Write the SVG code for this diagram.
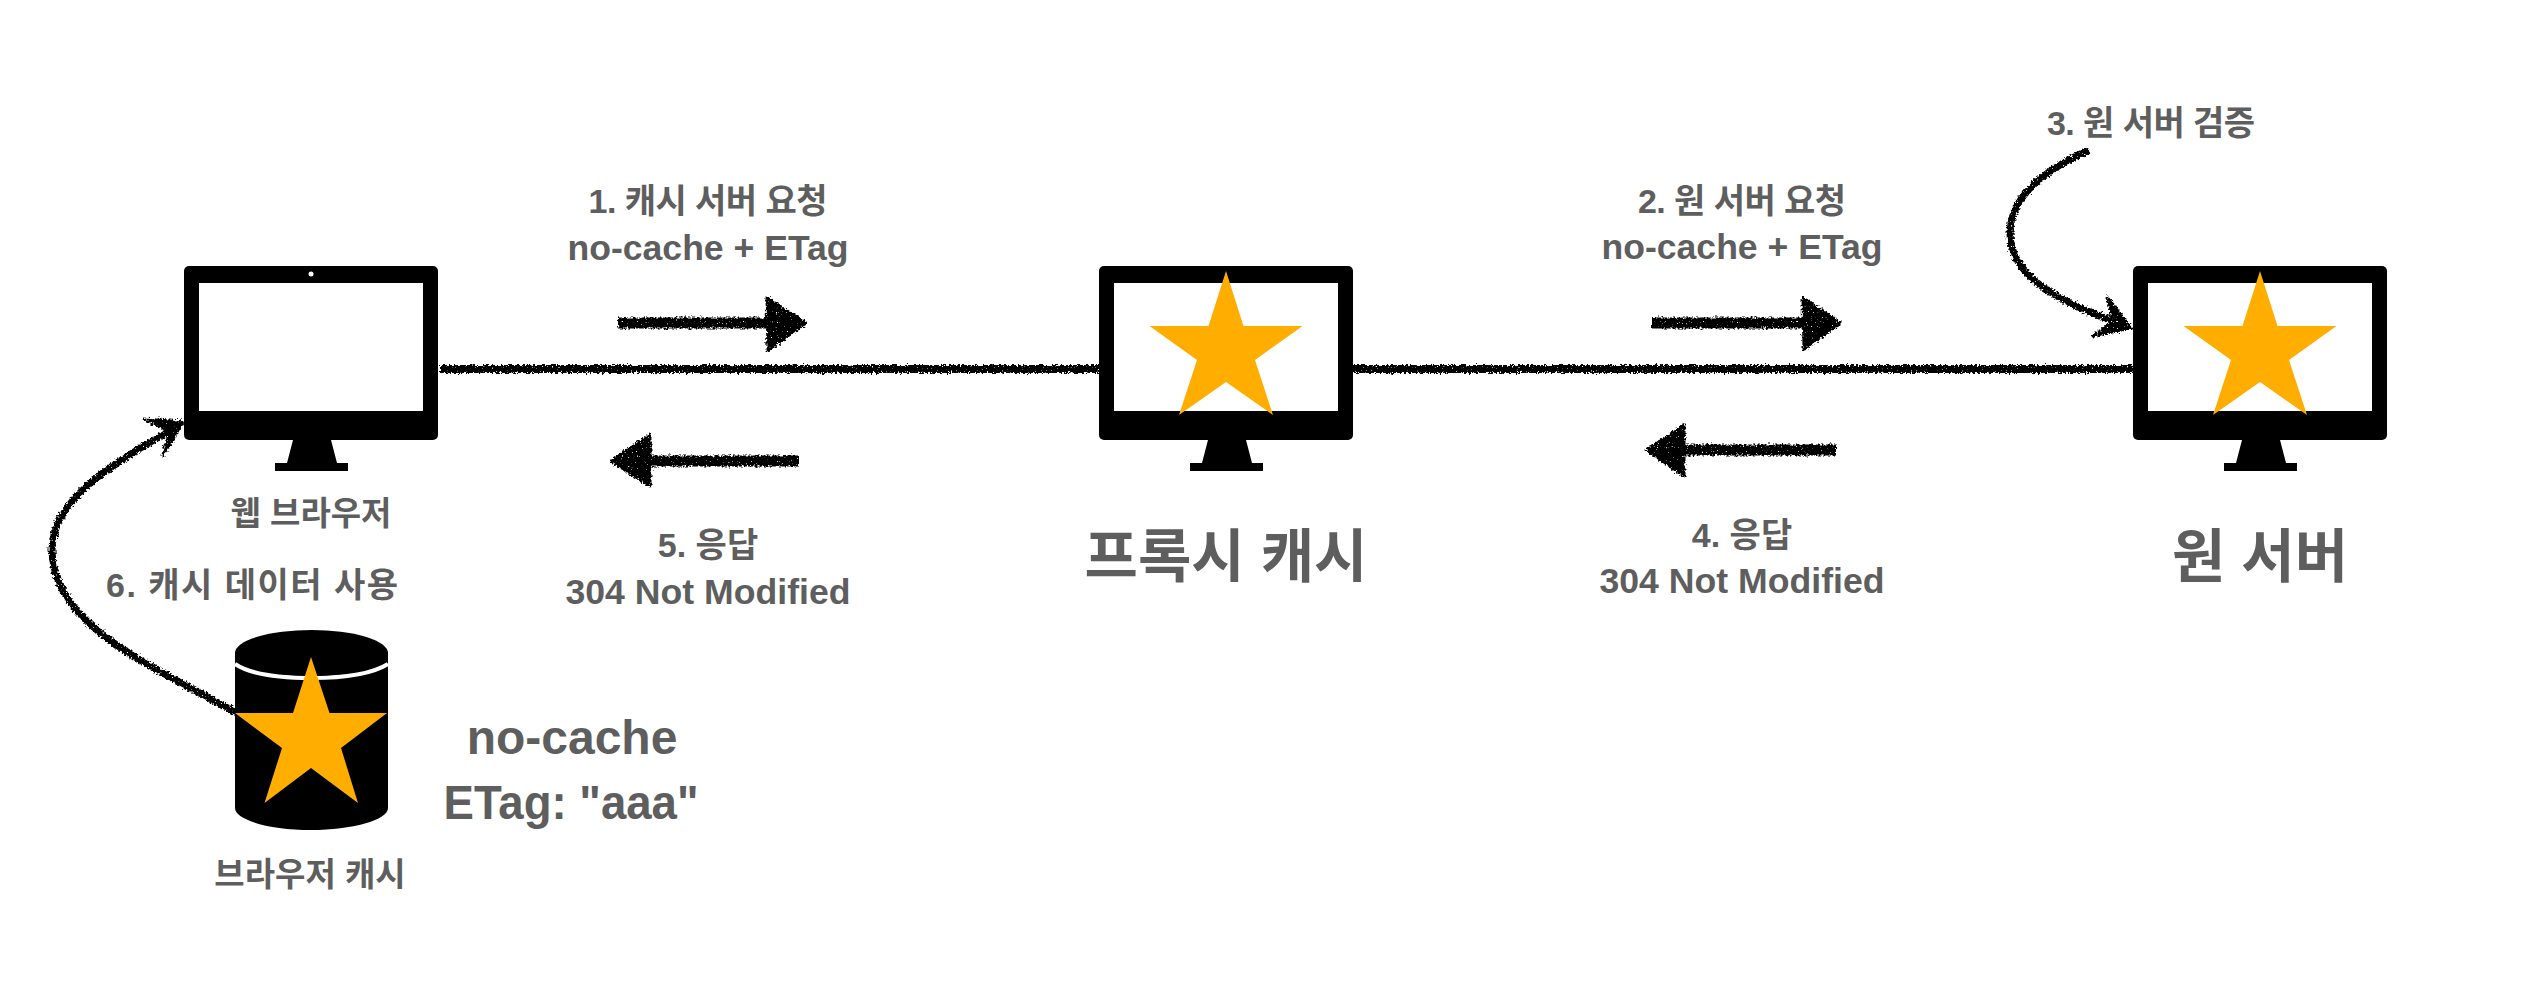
<svg xmlns="http://www.w3.org/2000/svg" width="2530" height="1000" viewBox="0 0 2530 1000">
<style>
text{font-family:"Liberation Sans","Noto Sans CJK KR",sans-serif;font-weight:700;fill:#5e5e5e;text-anchor:middle}
.s{font-size:34px}.l{font-size:35px}.m{font-size:33px}.b{font-size:48px}.x{font-size:58px}
.chalk{fill:none;stroke:#000;stroke-width:8;stroke-linecap:butt}
.head{fill:#000;stroke:#000;stroke-width:3;stroke-linejoin:round}
.star{fill:#ffae00}
</style>
<defs>
<filter id="rough" x="-5%" y="-50%" width="110%" height="200%">
<feTurbulence type="fractalNoise" baseFrequency="0.45" numOctaves="2" seed="4" result="n"/>
<feDisplacementMap in="SourceGraphic" in2="n" scale="6" xChannelSelector="R" yChannelSelector="G" result="d"/>
<feTurbulence type="fractalNoise" baseFrequency="0.8" numOctaves="1" seed="9"/>
<feColorMatrix type="matrix" values="0 0 0 0 0 0 0 0 0 0 0 0 0 0 0 0 0 0 -9 7" result="g"/>
<feComposite in="d" in2="g" operator="in"/>
</filter>
<g id="monitor">
<path d="M293 440H331L337 463H348V471H275V463H287Z" fill="#000"/>
<rect x="184" y="266" width="254" height="174" rx="5" fill="#000"/>
<rect x="199" y="283" width="224" height="128" fill="#fff"/>
</g>
<polygon id="star" class="star" points="0,271 17.5,326 76.5,326 29,360 47,415 0,382 -47,415 -29,360 -76.5,326 -17.5,326"/>
</defs>
<rect width="2530" height="1000" fill="#fff"/>
<g id="connectors" filter="url(#rough)">
<path class="chalk" d="M440 369H1099"/>
<path class="chalk" d="M1352 369H2133"/>
<path class="chalk" style="stroke-width:11" d="M618 323H775"/>
<path class="head" d="M767 298L806 323L768 350Z"/>
<path class="chalk" style="stroke-width:11" d="M799 461H640"/>
<path class="head" d="M650 435L611 461L650 486Z"/>
<path class="chalk" style="stroke-width:11" d="M1652 323H1810"/>
<path class="head" d="M1803 298L1840 323L1804 349Z"/>
<path class="chalk" style="stroke-width:11" d="M1836 450H1675"/>
<path class="head" d="M1684 425L1647 450L1684 476Z"/>
<path class="chalk" style="stroke-width:7" d="M2089 150C2040 172 2010 200 2010 233C2010 272 2050 300 2120 323"/>
<path class="head" d="M2107 297L2131 328L2092 336L2114 322Z"/>
<path class="chalk" style="stroke-width:7" d="M237 713C150 665 52 625 52 550C52 500 110 465 178 426"/>
<path class="head" d="M144 419L183 422L163 455L170 431Z"/>
</g>
<g id="browser"><use href="#monitor"/><circle cx="311" cy="274" r="2.5" fill="#fff"/><text class="m" x="311" y="525">웹 브라우저</text></g>
<g id="proxy"><use href="#monitor" x="915"/><use href="#star" x="1226"/><text class="x" x="1226" y="577">프록시 캐시</text></g>
<g id="origin"><use href="#monitor" x="1949"/><use href="#star" x="2260"/><text class="x" x="2260" y="577">원 서버</text></g>
<g id="cache">
<path d="M235 652V808C235 820 270 830 311 830C352 830 388 820 388 808V652Z" fill="#000"/>
<path d="M235 664C250 674 280 678 311 678C342 678 372 674 388 664" fill="none" stroke="#fff" stroke-width="4"/>
<ellipse cx="311.500" cy="653" rx="76.500" ry="23" fill="#000"/>
<polygon class="star" points="311,657 329.5,713 387,713 341,748 358,803 311,768 264.5,803 282,748 235,713 293,713"/>
<text class="m" x="310" y="886">브라우저 캐시</text>
</g>
<g id="labels">
<text class="s" x="708" y="213" textLength="239">1. 캐시 서버 요청</text>
<text class="l" x="708" y="260" textLength="281" lengthAdjust="spacingAndGlyphs">no-cache + ETag</text>
<text class="s" x="1742" y="213" textLength="208">2. 원 서버 요청</text>
<text class="l" x="1742" y="259" textLength="281" lengthAdjust="spacingAndGlyphs">no-cache + ETag</text>
<text class="s" x="2151" y="135" textLength="208">3. 원 서버 검증</text>
<text class="s" x="708" y="557">5. 응답</text>
<text class="l" x="708" y="604" textLength="285" lengthAdjust="spacingAndGlyphs">304 Not Modified</text>
<text class="s" x="1742" y="547">4. 응답</text>
<text class="l" x="1742" y="593" textLength="285" lengthAdjust="spacingAndGlyphs">304 Not Modified</text>
<text class="s" x="252" y="597" textLength="292">6. 캐시 데이터 사용</text>
<text class="b" x="572" y="754">no-cache</text>
<text class="b" x="571" y="819" textLength="255" lengthAdjust="spacingAndGlyphs">ETag: "aaa"</text>
</g>
</svg>
